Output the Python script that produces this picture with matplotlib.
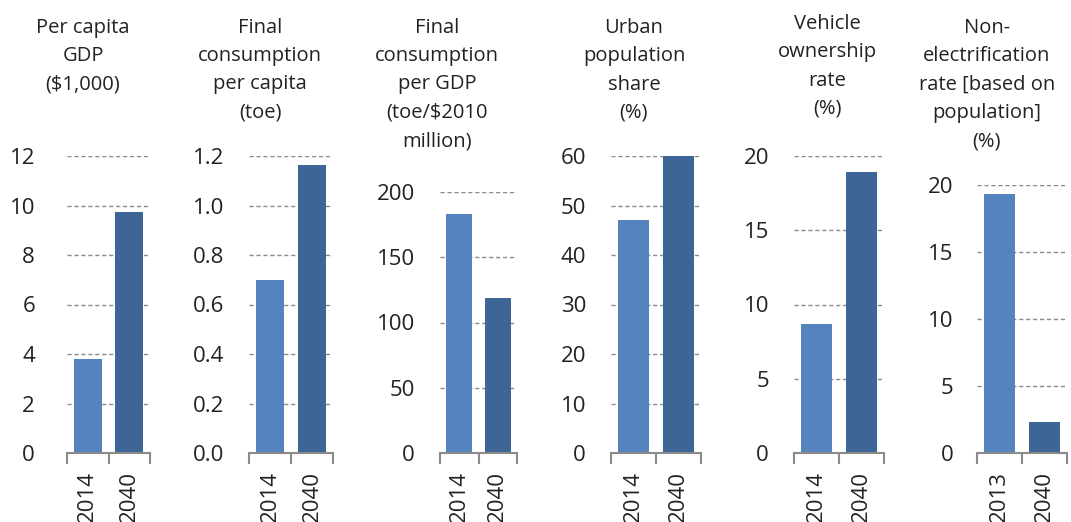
import matplotlib.pyplot as plt
from matplotlib.ticker import FormatStrFormatter, FixedLocator

# data
titles = [
    'Per capita\nGDP\n($1,000)',
    'Final\nconsumption\nper capita\n(toe)',
    'Final\nconsumption\nper GDP\n(toe/$2010\nmillion)',
    'Urban\npopulation\nshare\n(%)',
    'Vehicle\nownership\nrate\n(%)',
    'Non-\nelectrification\nrate [based on\npopulation]\n(%)',
]
years = [
    ['2014', '2040'],
    ['2014', '2040'],
    ['2014', '2040'],
    ['2014', '2040'],
    ['2014', '2040'],
    ['2013', '2040'],
]
gdp_per_capita = [3.8, 9.75]
cons_per_capita = [0.70, 1.165]
cons_per_gdp = [183, 119]
urban_share = [47, 60]
vehicle_rate = [8.7, 18.9]
non_electrification = [19.3, 2.3]
values = [gdp_per_capita, cons_per_capita, cons_per_gdp,
          urban_share, vehicle_rate, non_electrification]
y_max = [12, 1.2, 200, 60, 20, 20]
y_step = [2, 0.2, 50, 10, 5, 5]
y_fmt = ['%d', '%.1f', '%d', '%d', '%d', '%d']

W, H = 1071, 522
# axes boxes in pixels: left, right, top, bottom
boxes = [
    (67, 150, 156, 453),
    (249, 333, 156, 453),
    (440, 517, 192, 453),
    (611, 701, 156, 453),
    (794, 884, 156, 453),
    (977, 1067, 185, 453),
]
title_x = [83, 260, 437, 634, 827, 987]
title_top = [18, 18, 18, 18, 14, 18]
label_pad = [23, 18, 18, 18, 18, 17]

light = '#5583be'
dark = '#3d6596'
grey = '#8a8a8a'
text_col = '#222222'

plt.rcParams['font.family'] = ['Open Sans', 'DejaVu Sans']
plt.rcParams['text.color'] = text_col

fig = plt.figure(figsize=(W / 100, H / 100), dpi=100)

for i in range(6):
    l, r, t, b = boxes[i]
    ax = fig.add_axes([l / W, 1 - b / H, (r - l) / W, (b - t) / H])
    ax.bar([0, 1], values[i], width=0.68, color=[light, dark], zorder=2)
    ax.set_xlim(-0.5, 1.5)
    ax.set_ylim(0, y_max[i])

    n = int(round(y_max[i] / y_step[i]))
    ticks = [k * y_step[i] for k in range(n + 1)]
    ax.set_yticks(ticks)
    ax.yaxis.set_major_formatter(FormatStrFormatter(y_fmt[i]))
    ax.tick_params(axis='y', length=0, labelsize=16, pad=label_pad[i], labelcolor=text_col)
    ax.yaxis.grid(True, linestyle=(0, (3, 2)), color=grey, linewidth=1, zorder=0)
    ax.set_axisbelow(True)

    ax.set_xticks([0, 1])
    ax.set_xticklabels(years[i], rotation=90)
    ax.xaxis.set_minor_locator(FixedLocator([-0.5, 0.5, 1.5]))
    ax.tick_params(axis='x', which='major', length=0, labelsize=16, pad=13, labelcolor=text_col)
    ax.tick_params(axis='x', which='minor', length=8, width=1.5, color=grey, direction='out')

    for s in ['top', 'right', 'left']:
        ax.spines[s].set_visible(False)
    ax.spines['bottom'].set_color(grey)
    ax.spines['bottom'].set_linewidth(1.5)
    ax.spines['bottom'].set_zorder(3)

    fig.text(title_x[i] / W, 1 - title_top[i] / H, titles[i], ha='center', va='top',
             fontsize=14.5, linespacing=1.55, multialignment='center')

fig.savefig('out.png', dpi=100)
